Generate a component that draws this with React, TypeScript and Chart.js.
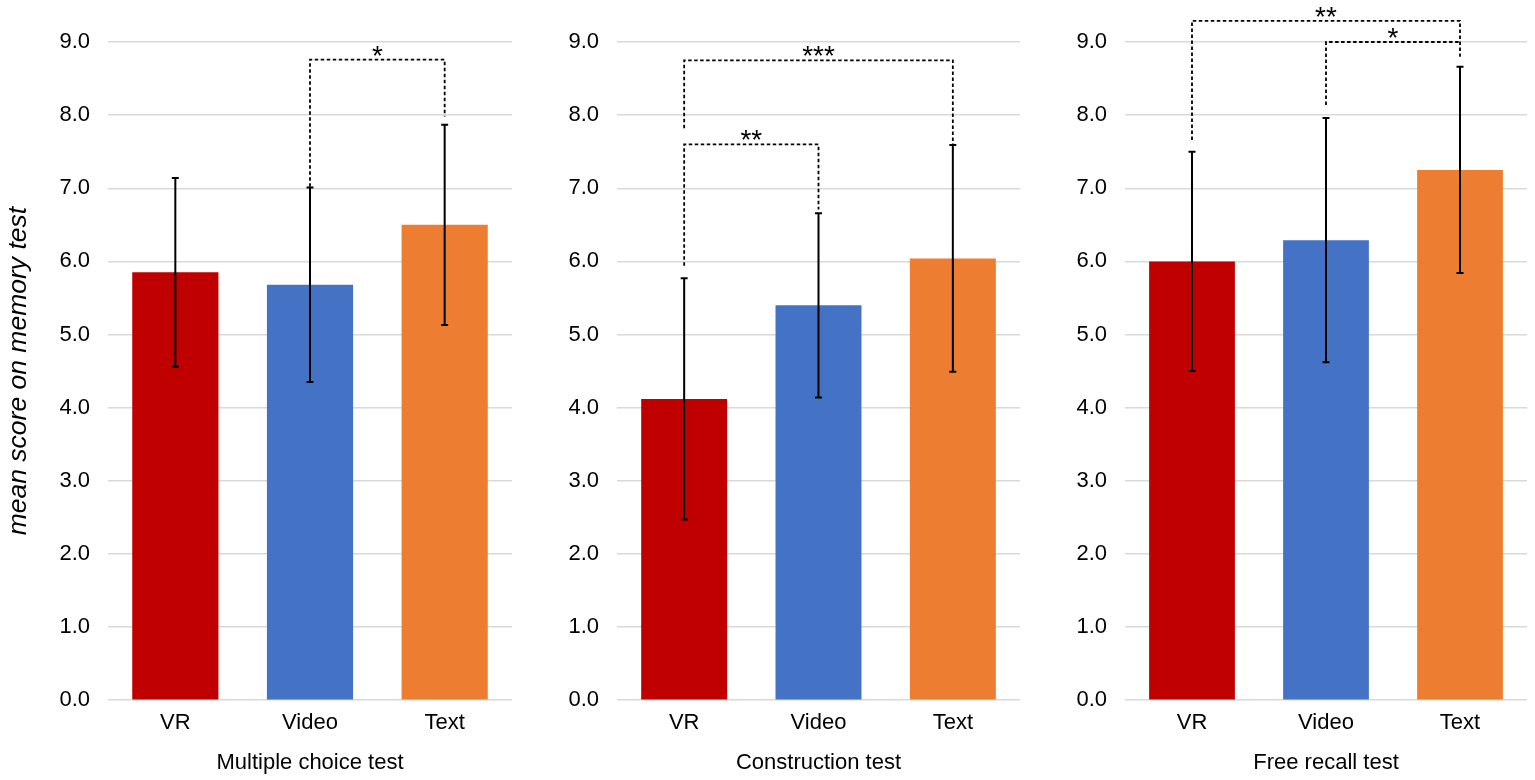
import { useEffect, useRef } from 'react'
import { Chart, registerables, type Plugin } from 'chart.js'

Chart.register(...registerables)

const categories = ['VR', 'Video', 'Text']
const testNames = ['Multiple choice test', 'Construction test', 'Free recall test']
const barColors = ['#C00000', '#4472C4', '#ED7D31']

// mean scores per test
const multipleChoiceMeans = [5.85, 5.68, 6.5]
const constructionMeans = [4.12, 5.4, 6.04]
const freeRecallMeans = [6.0, 6.29, 7.25]

// standard deviations (error bars)
const multipleChoiceSd = [1.29, 1.33, 1.37]
const constructionSd = [1.65, 1.26, 1.55]
const freeRecallSd = [1.5, 1.67, 1.41]

interface Bracket {
  from: number
  to: number
  level: number // height of the horizontal dashed line
  fromEnd: number // where the left leg stops
  toEnd: number // where the right leg stops
  label: string
}

const multipleChoiceBrackets: Bracket[] = [
  { from: 1, to: 2, level: 8.76, fromEnd: 7.02, toEnd: 7.98, label: '*' },
]
const constructionBrackets: Bracket[] = [
  { from: 0, to: 1, level: 7.6, fromEnd: 5.94, toEnd: 6.71, label: '**' },
  { from: 0, to: 2, level: 8.75, fromEnd: 7.82, toEnd: 7.6, label: '***' },
]
const freeRecallBrackets: Bracket[] = [
  { from: 0, to: 2, level: 9.29, fromEnd: 7.66, toEnd: 8.8, label: '**' },
  { from: 1, to: 2, level: 9.0, fromEnd: 8.14, toEnd: 9.0, label: '*' },
]

const panels = [
  { means: multipleChoiceMeans, sd: multipleChoiceSd, brackets: multipleChoiceBrackets },
  { means: constructionMeans, sd: constructionSd, brackets: constructionBrackets },
  { means: freeRecallMeans, sd: freeRecallSd, brackets: freeRecallBrackets },
]

// canvas placement: left, width, y-axis width, right padding
const frames = [
  { left: 0, width: 515, axisWidth: 108, padRight: 3 },
  { left: 515, width: 510, axisWidth: 102, padRight: 5 },
  { left: 1025, width: 510, axisWidth: 100, padRight: 8 },
]

const FONT = "'Liberation Sans', Arial, Helvetica, sans-serif"

function overlayPlugin(sd: number[], brackets: Bracket[]): Plugin<'bar'> {
  return {
    id: 'overlay',
    afterDatasetsDraw(chart) {
      const ctx = chart.ctx
      const y = chart.scales.y
      const meta = chart.getDatasetMeta(0)
      const values = chart.data.datasets[0].data as number[]
      ctx.save()
      // error bars
      ctx.strokeStyle = '#000'
      ctx.lineWidth = 2
      meta.data.forEach((bar, i) => {
        const x = bar.x
        const top = y.getPixelForValue(values[i] + sd[i])
        const bottom = y.getPixelForValue(values[i] - sd[i])
        ctx.beginPath()
        ctx.moveTo(x, top)
        ctx.lineTo(x, bottom)
        ctx.moveTo(x - 3.5, top)
        ctx.lineTo(x + 3.5, top)
        ctx.moveTo(x - 3.5, bottom)
        ctx.lineTo(x + 3.5, bottom)
        ctx.stroke()
      })
      // significance brackets
      ctx.setLineDash([3.5, 2.5])
      ctx.lineWidth = 1.8
      brackets.forEach((b) => {
        const x1 = meta.data[b.from].x
        const x2 = meta.data[b.to].x
        const yl = y.getPixelForValue(b.level)
        ctx.beginPath()
        ctx.moveTo(x1, y.getPixelForValue(b.fromEnd))
        ctx.lineTo(x1, yl)
        ctx.lineTo(x2, yl)
        ctx.lineTo(x2, y.getPixelForValue(b.toEnd))
        ctx.stroke()
      })
      ctx.setLineDash([])
      ctx.fillStyle = '#000'
      ctx.font = `28px ${FONT}`
      ctx.textAlign = 'center'
      ctx.textBaseline = 'alphabetic'
      brackets.forEach((b) => {
        const x1 = meta.data[b.from].x
        const x2 = meta.data[b.to].x
        ctx.fillText(b.label, (x1 + x2) / 2, y.getPixelForValue(b.level) + 5)
      })
      ctx.restore()
    },
  }
}

function Panel({ index }: { index: number }) {
  const chartRef = useRef<HTMLCanvasElement>(null)
  const chartInstance = useRef<Chart | null>(null)
  const panel = panels[index]
  const frame = frames[index]

  useEffect(() => {
    if (!chartRef.current) return
    if (chartInstance.current) chartInstance.current.destroy()
    const ctx = chartRef.current.getContext('2d')
    if (!ctx) return

    chartInstance.current = new Chart(ctx, {
      type: 'bar',
      data: {
        labels: categories,
        datasets: [
          {
            data: panel.means,
            backgroundColor: barColors,
            borderWidth: 0,
            categoryPercentage: 1,
            barPercentage: 0.64,
          },
        ],
      },
      options: {
        animation: false,
        responsive: true,
        maintainAspectRatio: false,
        layout: { padding: { top: 42, right: frame.padRight, bottom: 4, left: 0 } },
        plugins: { legend: { display: false }, tooltip: { enabled: false } },
        scales: {
          x: {
            grid: { display: false, drawTicks: false },
            border: { display: false },
            ticks: { color: '#000', padding: 10, font: { family: FONT, size: 22 } },
            title: {
              display: true,
              text: testNames[index],
              color: '#000',
              padding: { top: 3, bottom: 0 },
              font: { family: FONT, size: 22 },
            },
          },
          y: {
            min: 0,
            max: 9,
            afterFit: (scale) => {
              scale.width = frame.axisWidth
            },
            grid: { color: '#d9d9d9', lineWidth: 1.5, drawTicks: false },
            border: { display: false },
            ticks: {
              stepSize: 1,
              color: '#000',
              padding: 18,
              font: { family: FONT, size: 22 },
              callback: (v) => Number(v).toFixed(1),
            },
            title: {
              display: index === 0,
              text: 'mean score on memory test',
              color: '#000',
              padding: { top: 3, bottom: 0 },
              font: { family: FONT, size: 26.5, style: 'italic' },
            },
          },
        },
      },
      plugins: [overlayPlugin(panel.sd, panel.brackets)],
    })

    return () => {
      if (chartInstance.current) {
        chartInstance.current.destroy()
        chartInstance.current = null
      }
    }
  }, [index])

  return (
    <div style={{ position: 'absolute', left: frame.left, top: 0, width: frame.width, height: 780 }}>
      <canvas ref={chartRef} />
    </div>
  )
}

export default function App() {
  return (
    <div style={{ position: 'absolute', left: 0, top: 0, width: 1535, height: 780, background: '#fff' }}>
      {panels.map((_, i) => (
        <Panel key={i} index={i} />
      ))}
    </div>
  )
}
